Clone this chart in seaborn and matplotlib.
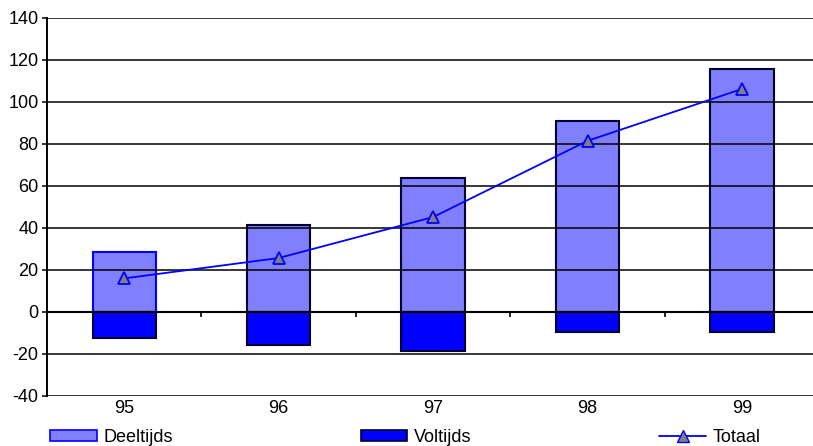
import numpy as np
import matplotlib
matplotlib.use("Agg")
import matplotlib.pyplot as plt
import seaborn as sns
from matplotlib.patches import Patch
from matplotlib.lines import Line2D

# waarden
jaren = ["95", "96", "97", "98", "99"]
deeltijds = [28.5, 41.4, 63.8, 91.0, 115.7]
voltijds = [-12.5, -15.7, -18.6, -9.5, -9.5]
totaal = [16.0, 25.7, 45.2, 81.5, 106.2]

sns.set_style("white")
plt.rcParams["font.family"] = ["Liberation Sans", "DejaVu Sans"]
plt.rcParams["font.size"] = 13
plt.rcParams["text.color"] = "black"
plt.rcParams["xtick.color"] = "black"
plt.rcParams["ytick.color"] = "black"
plt.rcParams["axes.unicode_minus"] = False

fig = plt.figure(figsize=(8.13, 4.46), dpi=100)
ax = fig.add_axes([47 / 813, 1 - 396 / 446, 1 - 47 / 813, (396 - 18) / 446])

# horizontale rasterlijnen
for y in range(-40, 141, 20):
    ax.axhline(y, color="black", lw=1.1, zorder=0)

sns.barplot(x=jaren, y=deeltijds, color="#8080FF", width=0.41, saturation=1,
            edgecolor="#000033", linewidth=1.5, ax=ax, zorder=2)
sns.barplot(x=jaren, y=voltijds, color="#0000FF", width=0.41, saturation=1,
            edgecolor="#000033", linewidth=1.5, ax=ax, zorder=2)
# eerste balk heeft een blauwe rand
ax.patches[0].set_edgecolor("#0000FF")

sns.pointplot(x=jaren, y=totaal, color="#0000FF", markers="^", linewidth=1.3,
              markersize=9, ax=ax)
for ln in ax.lines:
    ln.set_markerfacecolor("#808080")
    ln.set_markeredgecolor("#0000FF")
    ln.set_markeredgewidth(1.3)
    ln.set_zorder(4)

# nul-lijn met streepjes tussen de categorieën
ax.axhline(0, color="black", lw=1.5, zorder=3)
grens = np.arange(len(jaren) - 1) + 0.5
ax.vlines(grens, -2.4, 0, color="black", lw=1.2, zorder=3)

ax.set_ylim(-40, 140)
ax.set_xlim(-0.5, 4.46)
ax.set_yticks(range(-40, 141, 20))
ax.set_ylabel("")
ax.set_xlabel("")
for s in ["top", "right", "bottom"]:
    ax.spines[s].set_visible(False)
ax.spines["left"].set_color("black")
ax.spines["left"].set_linewidth(1.4)
ax.tick_params(axis="y", direction="out", length=3.6, width=1.1,
               left=True, pad=2.5, labelsize=13)
ax.tick_params(axis="x", length=0, pad=3, labelsize=13)

handles = [
    Patch(facecolor="#8080FF", edgecolor="#0000FF", linewidth=1.2),
    Patch(facecolor="#0000FF", edgecolor="#000033", linewidth=1.2),
    Line2D([], [], color="#0000FF", lw=1.3, marker="^", markersize=9,
           markerfacecolor="#808080", markeredgecolor="#0000FF"),
]
fig.legend(handles, ["Deeltijds", "Voltijds", "Totaal"], ncol=3,
           loc="center left", bbox_to_anchor=(50 / 813, 1 - 437.5 / 446),
           frameon=False, handlelength=2.6, handleheight=0.55,
           handletextpad=0.35, columnspacing=10.4, fontsize=13,
           borderpad=0, borderaxespad=0)

fig.savefig("out.png", dpi=100)
